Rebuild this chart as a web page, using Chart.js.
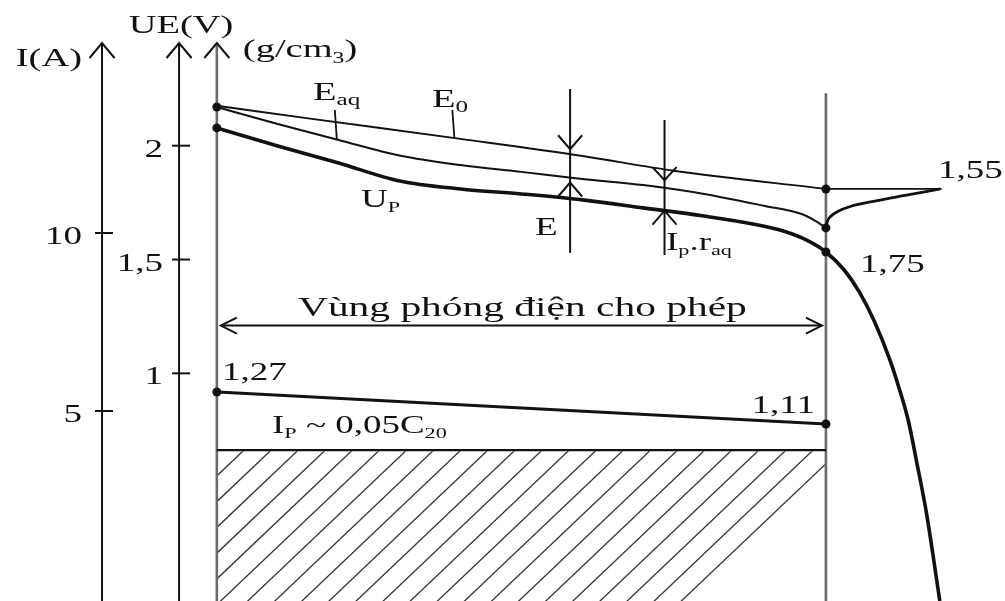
<!DOCTYPE html>
<html lang="vi">
<head>
<meta charset="UTF-8">
<title>Đặc tính phóng điện ắc quy</title>
<script src="https://cdn.jsdelivr.net/npm/chart.js@4"></script>
<style>
  body { margin: 0; background: #fff; }
  .wrap { position: relative; width: 1005px; height: 601px; }
</style>
</head>
<body>
<div class="wrap"><canvas id="chart"></canvas></div>
<script>
// thời gian phóng (h) và điện áp (V)
const tE0 = [0, 1.5, 4, 6, 7.5, 10];
const vE0 = [2.175, 2.12, 2.03, 1.955, 1.89, 1.81];

const tEaq = [0, 1, 2, 3, 4, 5, 6, 7, 8, 9, 9.6, 9.8, 10];
const vEaq = [2.17, 2.095, 2.025, 1.957, 1.915, 1.885, 1.854, 1.827, 1.788, 1.735, 1.70, 1.674, 1.639];

const tUp = [0, 1, 2, 3, 4, 5, 6, 7, 8, 8.8, 9.3, 9.7, 10, 10.3, 10.55, 10.8, 11.05, 11.2, 11.35, 11.5, 11.65, 11.87];
const vUp = [2.078, 1.999, 1.924, 1.845, 1.810, 1.788, 1.762, 1.727, 1.691, 1.656, 1.625, 1.583, 1.533, 1.454, 1.357, 1.226, 1.059, 0.936, 0.795, 0.597, 0.387, 0];

// hồi phục sau khi ngắt tải
const tRec = [10, 10.02, 10.08, 10.2, 10.4, 10.8, 11.3, 11.88];
const vRec = [1.639, 1.665, 1.69, 1.712, 1.733, 1.757, 1.782, 1.81];
const tRest = [10, 11.9];
const vRest = [1.81, 1.81];

// tỷ trọng dung dịch (g/cm3) và dòng phóng (A)
const tRho = [0, 10];
const rho = [1.27, 1.11];
const tIp = [0, 10];
const ip = [3.9, 3.9];

const ticksU = [1, 1.5, 2];
const labelsU = ['1', '1,5', '2'];
const ticksI = [5, 10];
const labelsI = ['5', '10'];

const mk = (ts, vs) => ts.map((t, i) => ({x: t, y: vs[i]}));
const dot = (n, idx) => Array.from({length: n}, (_, i) => idx.includes(i) ? 4.5 : 0);

// interpolate a series at time t
function at(ts, vs, t) {
  for (let i = 1; i < ts.length; i++) {
    if (t <= ts[i]) {
      const k = (t - ts[i - 1]) / (ts[i] - ts[i - 1]);
      return vs[i - 1] + k * (vs[i] - vs[i - 1]);
    }
  }
  return vs[vs.length - 1];
}

const SX = 1.48; // chữ trong hình in bị kéo giãn ngang
const FONT = '"Liberation Serif", "Times New Roman", serif';

function rich(ctx, parts, x, y, align) {
  ctx.save();
  let w = 0;
  parts.forEach(p => {
    ctx.font = p[1] + 'px ' + FONT;
    p.w = ctx.measureText(p[0]).width * SX;
    w += p.w;
  });
  let cx = align === 'right' ? x - w : align === 'center' ? x - w / 2 : x;
  ctx.fillStyle = '#111';
  ctx.textBaseline = 'alphabetic';
  ctx.textAlign = 'left';
  parts.forEach(p => {
    ctx.save();
    ctx.font = p[1] + 'px ' + FONT;
    ctx.translate(cx, y + (p[2] || 0));
    ctx.scale(SX, 1);
    ctx.fillText(p[0], 0, 0);
    ctx.restore();
    cx += p.w;
  });
  ctx.restore();
}
const txt = (ctx, s, size, x, y, align) => rich(ctx, [[s, size]], x, y, align);

function line(ctx, x1, y1, x2, y2) {
  ctx.beginPath(); ctx.moveTo(x1, y1); ctx.lineTo(x2, y2); ctx.stroke();
}

// open arrow head, tip at (x, y)
function head(ctx, x, y, dir, len, half) {
  ctx.beginPath();
  if (dir === 'up') { ctx.moveTo(x - half, y + len); ctx.lineTo(x, y); ctx.lineTo(x + half, y + len); }
  if (dir === 'down') { ctx.moveTo(x - half, y - len); ctx.lineTo(x, y); ctx.lineTo(x + half, y - len); }
  if (dir === 'left') { ctx.moveTo(x + len, y - half); ctx.lineTo(x, y); ctx.lineTo(x + len, y + half); }
  if (dir === 'right') { ctx.moveTo(x - len, y - half); ctx.lineTo(x, y); ctx.lineTo(x - len, y + half); }
  ctx.stroke();
}

const AX_I = -1.885, AX_U = -0.62, AX_D = 0, T_END = 10;

const figure = {
  id: 'figure',
  beforeDatasetsDraw(chart) {
    const {ctx, chartArea: ca, scales: {x, yI}} = chart;
    const x0 = x.getPixelForValue(0), x1 = x.getPixelForValue(T_END);
    const yTop = yI.getPixelForValue(ip[0]);

    // vùng gạch chéo dưới đường dòng phóng
    ctx.save();
    ctx.beginPath();
    ctx.rect(x0 + 1, yTop + 1, x1 - x0 - 2, ca.bottom - yTop);
    ctx.clip();
    ctx.strokeStyle = '#333';
    ctx.lineWidth = 1.3;
    const step = 27.1, slope = 0.95, h = ca.bottom - yTop + 2;
    for (let k = 1; k <= 23; k++) {
      const xt = x0 + step * k;
      line(ctx, xt, yTop, xt - h / slope, yTop + h);
    }
    ctx.restore();

    // trục tỷ trọng và vạch cuối vùng phóng
    ctx.save();
    ctx.strokeStyle = '#6a6a6a';
    ctx.lineWidth = 2.6;
    line(ctx, x0, ca.top + 43, x0, ca.bottom);
    line(ctx, x1, chart.scales.yU.getPixelForValue(2.23), x1, ca.bottom);
    ctx.restore();
  },
  afterDatasetsDraw(chart) {
    const {ctx, chartArea: ca, scales: {x, yU, yI}} = chart;
    const top = ca.top + 43;
    ctx.save();
    ctx.lineCap = 'butt';

    // trục I và UE
    ctx.strokeStyle = '#111';
    ctx.lineWidth = 2;
    const xI = x.getPixelForValue(AX_I), xU = x.getPixelForValue(AX_U), xD = x.getPixelForValue(AX_D);
    line(ctx, xI, top, xI, ca.bottom);
    line(ctx, xU, top, xU, ca.bottom);
    [xI, xU, xD].forEach(px => head(ctx, px, top, 'up', 15, 12.5));

    ticksI.forEach((v, i) => {
      const py = yI.getPixelForValue(v);
      line(ctx, xI - 7, py, xI + 11, py);
      txt(ctx, labelsI[i], 25, xI - 20, py + 11, 'right');
    });
    ticksU.forEach((v, i) => {
      const py = yU.getPixelForValue(v);
      line(ctx, xU - 7, py, xU + 11, py);
      txt(ctx, labelsU[i], 25, xU - 16, py + 11, 'right');
    });

    txt(ctx, 'I(A)', 26, xI - 20, ca.top + 66, 'right');
    txt(ctx, 'UE(V)', 26, xU + 2, ca.top + 33, 'center');
    rich(ctx, [['(g/cm', 26], ['3', 16, 6], [')', 26]], xD + 26, ca.top + 57, 'left');

    // mũi tên chỉ E và Ip.raq
    ctx.lineWidth = 2;
    const t1 = 5.8, t2 = 7.35;
    const a1 = x.getPixelForValue(t1), a2 = x.getPixelForValue(t2);
    line(ctx, a1, yU.getPixelForValue(2.249), a1, yU.getPixelForValue(1.529));
    line(ctx, a2, yU.getPixelForValue(2.113), a2, yU.getPixelForValue(1.52));
    head(ctx, a1, yU.getPixelForValue(at(tE0, vE0, t1)) - 5, 'down', 14, 12);
    head(ctx, a1, yU.getPixelForValue(at(tEaq, vEaq, t1)) + 5, 'up', 14, 12);
    head(ctx, a2, yU.getPixelForValue(at(tEaq, vEaq, t2)) - 8, 'down', 13, 12);
    head(ctx, a2, yU.getPixelForValue(at(tUp, vUp, t2)), 'up', 14, 12);

    // chú thích Eaq, E0
    ctx.lineWidth = 1.8;
    const tA = 1.97, tB = 3.9;
    line(ctx, x.getPixelForValue(tA) - 2, ca.top + 110, x.getPixelForValue(tA), yU.getPixelForValue(at(tEaq, vEaq, tA)));
    line(ctx, x.getPixelForValue(tB) - 2, ca.top + 110, x.getPixelForValue(tB), yU.getPixelForValue(at(tE0, vE0, tB)));

    // vùng phóng điện cho phép
    const yA = yU.getPixelForValue(1.21);
    const x0 = x.getPixelForValue(0), x1 = x.getPixelForValue(T_END);
    ctx.lineWidth = 2;
    line(ctx, x0 + 4, yA, x1 - 4, yA);
    head(ctx, x0 + 4, yA, 'left', 16, 8);
    head(ctx, x1 - 4, yA, 'right', 16, 8);
    txt(ctx, 'Vùng phóng điện cho phép', 28, (x0 + x1) / 2 + 1, ca.top + 316, 'center');

    rich(ctx, [['E', 26], ['aq', 17, 5]], 313, ca.top + 100, 'left');
    rich(ctx, [['E', 26], ['0', 17, 5]], 432, ca.top + 107, 'left');
    rich(ctx, [['U', 25], ['P', 15, 5]], 361, ca.top + 207, 'left');
    txt(ctx, 'E', 25, 535, ca.top + 235, 'left');
    rich(ctx, [['I', 25], ['p', 15, 5], ['.r', 25], ['aq', 15, 5]], 666, ca.top + 250, 'left');
    txt(ctx, '1,55', 25, 938, ca.top + 178, 'left');
    txt(ctx, '1,75', 25, 860, ca.top + 272, 'left');
    txt(ctx, '1,27', 25, 222, ca.top + 380, 'left');
    txt(ctx, '1,11', 25, 815, ca.top + 413, 'right');
    rich(ctx, [['I', 25], ['P', 15, 5], [' ~ 0,05C', 25], ['20', 15, 5]], 272, ca.top + 433, 'left');
    ctx.restore();
  }
};

const base = {borderColor: '#111', pointBackgroundColor: '#111', pointBorderWidth: 0, fill: false, cubicInterpolationMode: 'monotone'};

new Chart(document.getElementById('chart'), {
  type: 'line',
  data: {
    datasets: [
      {...base, label: 'E0', data: mk(tE0, vE0), yAxisID: 'yU', borderWidth: 2, pointRadius: dot(tE0.length, [tE0.length - 1])},
      {...base, label: 'Eaq', data: mk(tEaq, vEaq), yAxisID: 'yU', borderWidth: 2, pointRadius: dot(tEaq.length, [0, tEaq.length - 1])},
      {...base, label: 'Up', data: mk(tUp, vUp), yAxisID: 'yU', borderWidth: 3.6, pointRadius: dot(tUp.length, [0, tUp.indexOf(10)])},
      {...base, label: 'hồi phục', data: mk(tRec, vRec), yAxisID: 'yU', borderWidth: 2.8, pointRadius: 0},
      {...base, label: 'E0 nghỉ', data: mk(tRest, vRest), yAxisID: 'yU', borderWidth: 1.8, pointRadius: 0},
      {...base, label: 'tỷ trọng', data: mk(tRho, rho), yAxisID: 'yD', borderWidth: 3, pointRadius: 4.5},
      {...base, label: 'Ip', data: mk(tIp, ip), yAxisID: 'yI', borderWidth: 2.2, pointRadius: 0}
    ]
  },
  options: {
    responsive: true,
    maintainAspectRatio: false,
    animation: false,
    events: [],
    layout: { padding: 0, autoPadding: false },
    plugins: { legend: { display: false }, tooltip: { enabled: false } },
    scales: {
      x: { type: 'linear', min: -3.56, max: 12.94, display: false },
      yU: { type: 'linear', min: 0, max: 2.64, display: false },
      yI: { type: 'linear', min: -0.337, max: 16.545, display: false },
      yD: { type: 'linear', min: 0.225, max: 3.23, display: false }
    }
  },
  plugins: [figure]
});
</script>
</body>
</html>
